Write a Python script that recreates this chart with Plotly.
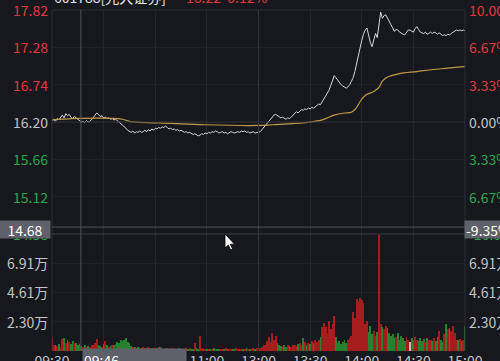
import plotly.graph_objects as go

# ---------------- data ----------------
prev_close = 16.20
price = [
    16.22, 16.24, 16.21, 16.25, 16.23, 16.27, 16.30, 16.26, 16.32, 16.29, 16.31, 16.27, 16.25, 16.28, 16.26, 16.24, 16.22,
    16.20, 16.21, 16.19, 16.22, 16.20, 16.21, 16.23, 16.26, 16.30, 16.33,
    16.31, 16.28, 16.29, 16.26, 16.27, 16.25, 16.26, 16.24, 16.25, 16.23, 16.24, 16.22, 16.20, 16.18,
    16.16, 16.13, 16.11, 16.08, 16.06, 16.05, 16.07, 16.04, 16.06, 16.05,
    16.07, 16.05, 16.06, 16.08, 16.06, 16.09, 16.07, 16.10, 16.08, 16.11, 16.10, 16.12, 16.11, 16.13, 16.12, 16.14,
    16.12, 16.10, 16.11, 16.09, 16.10, 16.08, 16.09, 16.07, 16.08, 16.06, 16.05, 16.06, 16.04, 16.05, 16.03, 16.02, 16.03, 16.01, 16.00,
    16.01, 16.03, 16.02, 16.04, 16.03, 16.05, 16.04, 16.06, 16.05, 16.07,
    16.06, 16.04, 16.05, 16.06, 16.04, 16.05, 16.03, 16.04, 16.06, 16.05,
    16.04, 16.05, 16.06, 16.05, 16.07, 16.06, 16.07, 16.05, 16.06, 16.04,
    16.05, 16.06, 16.04, 16.05,
    16.05, 16.06, 16.09, 16.12, 16.15, 16.17, 16.21, 16.24, 16.27, 16.30, 16.31,
    16.29, 16.28, 16.26, 16.27, 16.25, 16.24, 16.26, 16.25, 16.27, 16.30, 16.33, 16.35, 16.33, 16.36, 16.38, 16.37, 16.39,
    16.38, 16.40, 16.39, 16.41, 16.40, 16.42, 16.44, 16.46, 16.45, 16.49, 16.53, 16.56, 16.60, 16.66, 16.73, 16.80, 16.87,
    16.84, 16.80, 16.77, 16.74, 16.72, 16.70, 16.69, 16.71, 16.74, 16.79, 16.84,
    16.93, 17.05, 17.16, 17.27, 17.38, 17.47, 17.53, 17.56, 17.45, 17.35, 17.29, 17.38, 17.48, 17.42, 17.58, 17.79,
    17.70, 17.74, 17.75, 17.70, 17.66, 17.61, 17.56, 17.51, 17.54, 17.53,
    17.50, 17.48, 17.47, 17.46, 17.50, 17.53, 17.53, 17.51, 17.50, 17.55,
    17.58, 17.54, 17.50, 17.49, 17.48, 17.50, 17.47, 17.48, 17.50, 17.48,
    17.50, 17.49, 17.47, 17.49, 17.47, 17.45, 17.46, 17.45, 17.47, 17.46,
    17.48, 17.50, 17.52, 17.53, 17.52, 17.53, 17.52, 17.53, 17.52,
]

avg_minute = [0, 12, 41, 45, 70, 89, 120, 128, 147, 157, 164, 170, 174, 177, 180, 183, 186, 188, 190, 192,
              195, 202, 212, 226, 240]
avg_price = [16.23, 16.25, 16.24, 16.21, 16.18, 16.16, 16.15, 16.16, 16.19, 16.23, 16.30, 16.33, 16.34,
             16.41, 16.53, 16.60, 16.63, 16.66, 16.70, 16.79, 16.85, 16.90, 16.93, 16.97, 17.00]

volume_wan = [
    1.10, 0.45, 0.50, 0.40, 0.55, 0.35, 0.95, 1.00, 0.60, 0.85,
    0.70, 0.55, 0.80, 0.60, 0.65, 0.45, 0.55, 0.40, 0.35, 0.45,
    0.30, 0.40, 0.35, 0.50, 0.45, 0.60, 0.95, 0.50, 0.40, 0.35,
    0.55, 0.80, 0.45, 0.35, 0.40, 0.50, 0.45, 0.55, 0.70, 0.65,
    0.85, 0.75, 0.90, 1.00, 0.70, 0.60, 0.40, 0.35, 0.30, 0.25,
    0.30, 0.20, 0.25, 0.30, 0.20, 0.25, 0.35, 0.20, 0.25, 0.20,
    0.25, 0.20, 0.30, 0.35, 0.20, 0.15, 0.25, 0.20, 0.15, 0.20,
    0.15, 0.20, 0.15, 0.10, 0.20, 0.15, 0.10, 0.15, 0.20, 0.15,
    0.20, 0.15, 0.10, 0.60, 0.25, 0.15, 1.20, 0.20, 0.15, 0.10,
    0.15, 0.10, 0.15, 0.10, 0.20, 0.10, 0.15, 0.10, 0.12, 0.15,
    0.10, 0.25, 0.15, 0.10, 0.12, 0.10, 0.15, 0.20, 0.10, 0.12,
    0.15, 0.10, 0.12, 0.20, 0.10, 0.15, 0.12, 0.25, 0.15, 0.20,
    0.30, 0.25, 0.35, 0.50, 0.45, 0.80, 1.10, 0.70, 1.40, 0.90,
    1.20, 0.60, 0.45, 0.40, 0.35, 0.50, 0.30, 0.45, 0.40, 0.35,
    0.50, 0.45, 0.40, 0.55, 0.60, 0.50, 1.00, 0.70, 0.45, 0.60,
    0.55, 0.80, 0.65, 0.90, 0.70, 0.85, 1.10, 1.90, 2.20, 1.90,
    1.40, 2.35, 1.70, 2.10, 2.75, 1.10, 0.60, 0.80, 0.55, 0.70,
    0.90, 0.60, 0.85, 1.00, 1.20, 3.10, 2.60, 4.10, 3.90, 4.20,
    4.00, 3.80, 2.10, 2.40, 1.50, 2.00, 1.30, 1.60, 1.20, 1.50,
    9.10, 2.10, 1.90, 1.70, 2.00, 1.80, 1.40, 1.20, 1.30, 1.00,
    1.10, 1.40, 0.90, 1.20, 1.00, 0.80, 1.10, 0.90, 0.70, 1.00,
    0.85, 1.10, 0.90, 0.75, 1.00, 0.80, 0.95, 0.70, 1.05, 0.85,
    0.90, 0.75, 1.00, 0.80, 1.10, 1.60, 0.90, 0.70, 1.30, 2.10,
    1.70, 1.80, 1.60, 2.00, 1.40, 0.90, 0.85, 0.95, 0.80, 0.90,
    2.00,
]

minutes = list(range(len(price)))
time_ticks = [0, 30, 60, 90, 120, 150, 180, 210, 240]
time_labels = ["09:30", "10:00", "10:30", "11:00", "13:00", "13:30", "14:00", "14:30", "15:00"]
price_ticks = [17.82, 17.28, 16.74, 16.20, 15.66, 15.12, 14.58]
price_labels = ["17.82", "17.28", "16.74", "16.20", "15.66", "15.12", "14.58"]
pct_labels = ["10.00%", "6.67%", "3.33%", "0.00%", "3.33%", "6.67%", "-10.00%"]
vol_ticks = [6.91, 4.61, 2.30]
vol_labels = ["6.91万", "4.61万", "2.30万"]
vol_max = 9.21

stock_name = "601788[光大证券]"
cursor_minute = 16.8
cursor_time_label = "09:46"
cursor_last = "16.22"
cursor_change = "0.12%"
cursor_price = 14.68
cursor_price_label = "14.68"
cursor_pct_label = "-9.35%"

# ---------------- style ----------------
BG = "#16181d"
RED = "#e2393e"
GREEN = "#2ea64e"
GRAY = "#c4c4c4"
FONT = "Noto Sans CJK SC, Noto Sans, sans-serif"
L, R, T, B = 52, 35, 10, 10
W, H = 500, 361
PW, PH = W - L - R, H - T - B
split = 0.3431


def paper(px_x, px_y):
    return (px_x - L) / PW, (H - B - px_y) / PH


def level_color(v):
    if v > prev_close + 1e-9:
        return RED
    if v < prev_close - 1e-9:
        return GREEN
    return GRAY


bar_colors = []
for i, p in enumerate(price):
    ref = prev_close if i == 0 else price[i - 1]
    if p > ref + 1e-9:
        bar_colors.append("#a51d1d")
    elif p < ref - 1e-9:
        bar_colors.append("#26812f")
    else:
        bar_colors.append("#c0c0c0")

fig = go.Figure()
fig.add_trace(go.Scatter(x=minutes, y=price, mode="lines", line=dict(color="#d6d6d6", width=1),
                         xaxis="x", yaxis="y", hoverinfo="skip"))
fig.add_trace(go.Scatter(x=avg_minute, y=avg_price, mode="lines", line=dict(color="#bf9a48", width=1.2, shape="spline"),
                         xaxis="x", yaxis="y", hoverinfo="skip"))
fig.add_trace(go.Bar(x=minutes, y=volume_wan, marker=dict(color=bar_colors, line=dict(width=0)),
                     width=0.5, xaxis="x2", yaxis="y2", hoverinfo="skip"))

grid = "#22252b"
fig.update_layout(
    width=W, height=H, margin=dict(l=L, r=R, t=T, b=B, autoexpand=False),
    paper_bgcolor=BG, plot_bgcolor=BG, showlegend=False,
    font=dict(family=FONT, size=14, color=GRAY),
    xaxis=dict(domain=[0, 1], anchor="y", range=[0, 240], tickvals=time_ticks, showticklabels=False,
               showgrid=True, gridcolor=grid, gridwidth=1, zeroline=False, showline=False, automargin=False),
    xaxis2=dict(domain=[0, 1], anchor="y2", range=[0, 240], matches="x", tickvals=time_ticks,
                ticktext=time_labels, showgrid=True, gridcolor=grid, zeroline=False, showline=False,
                ticks="", tickfont=dict(color=GRAY, size=14, family=FONT), automargin=False),
    yaxis=dict(domain=[split, 1], range=[price_ticks[-1], price_ticks[0]], tickvals=price_ticks,
               showticklabels=False, showgrid=True, gridcolor="#1e2126", zeroline=False, automargin=False),
    yaxis2=dict(domain=[0, split], range=[0, vol_max], tickvals=vol_ticks, showticklabels=False,
                showgrid=True, gridcolor="#1e2126", zeroline=False, automargin=False),
    bargap=0,
)

shapes = []
shapes.append(dict(type="line", xref="paper", yref="paper", x0=0, x1=1, y0=1, y1=1, line=dict(color="#2c2f35", width=1)))
shapes.append(dict(type="line", xref="paper", yref="paper", x0=0, x1=0, y0=0, y1=1, line=dict(color="#2c2f35", width=1)))
shapes.append(dict(type="line", xref="paper", yref="paper", x0=1, x1=1, y0=0, y1=1, line=dict(color="#2c2f35", width=1)))
shapes.append(dict(type="line", xref="paper", yref="paper", x0=0, x1=1, y0=split, y1=split, line=dict(color="#3a3d44", width=1)))
shapes.append(dict(type="line", xref="x", yref="paper", x0=120, x1=120, y0=0, y1=1, line=dict(color="#34373e", width=1)))
shapes.append(dict(type="line", xref="paper", yref="y", x0=0, x1=1, y0=prev_close, y1=prev_close, line=dict(color="#2e3137", width=1)))
shapes.append(dict(type="line", xref="x", yref="paper", x0=cursor_minute, x1=cursor_minute, y0=0, y1=1,
                   line=dict(color="#50535b", width=1)))
shapes.append(dict(type="line", xref="paper", yref="y", x0=0, x1=1, y0=cursor_price, y1=cursor_price,
                   line=dict(color="#50535b", width=1)))
pts = [(225, 234), (225, 248), (228.3, 245), (230.6, 250), (232.6, 249), (230.3, 244.2), (234.6, 244.2)]
path = "M " + " L ".join(f"{paper(a, b)[0]:.5f},{paper(a, b)[1]:.5f}" for a, b in pts) + " Z"
shapes.append(dict(type="path", xref="paper", yref="paper", path=path, fillcolor="#ffffff",
                   line=dict(color="#000000", width=0.8), layer="above"))
fig.update_layout(shapes=shapes)

ann = []
for v, lab, pl in zip(price_ticks, price_labels, pct_labels):
    c = level_color(v)
    ann.append(dict(x=0, y=v, xref="paper", yref="y", text=lab, showarrow=False, xanchor="right",
                    xshift=-2, font=dict(color=c, size=14, family=FONT)))
    ann.append(dict(x=1, y=v, xref="paper", yref="y", text=pl, showarrow=False, xanchor="left",
                    xshift=2, font=dict(color=c, size=14, family=FONT)))
for v, lab in zip(vol_ticks, vol_labels):
    ann.append(dict(x=0, y=v, xref="paper", yref="y2", text=lab, showarrow=False, xanchor="right",
                    xshift=-2, font=dict(color=GRAY, size=14, family=FONT)))
    ann.append(dict(x=1, y=v, xref="paper", yref="y2", text=lab, showarrow=False, xanchor="left",
                    xshift=2, font=dict(color=GRAY, size=14, family=FONT)))
hx, hy = paper(52, 9)
ann.append(dict(x=hx, y=hy, xref="paper", yref="paper", text=stock_name, showarrow=False, xanchor="left",
                yanchor="bottom", font=dict(color="#e6e6e6", size=14, family=FONT)))
hx2, _ = paper(184, 9)
ann.append(dict(x=hx2, y=hy, xref="paper", yref="paper", text=cursor_last + "  " + cursor_change,
                showarrow=False, xanchor="left", yanchor="bottom", font=dict(color=RED, size=14, family=FONT)))
bx, by = paper(25, 229.5)
ann.append(dict(x=bx, y=by, xref="paper", yref="paper", text=cursor_price_label, showarrow=False,
                xanchor="center", yanchor="middle", width=48, height=15, bgcolor="#5e6169", borderpad=1,
                font=dict(color="#ffffff", size=14, family=FONT)))
rx, _ = paper(464, 229.5)
ann.append(dict(x=rx, y=by, xref="paper", yref="paper", text=cursor_pct_label, showarrow=False,
                xanchor="left", yanchor="middle", width=44, height=15, bgcolor="#5e6169", borderpad=1,
                align="left", font=dict(color="#ffffff", size=14, family=FONT)))
tx, ty = paper(82, 348)
ann.append(dict(x=tx, y=ty, xref="paper", yref="paper", text=cursor_time_label, showarrow=False,
                xanchor="left", yanchor="top", width=101, height=20, bgcolor="#5e6169", borderpad=1,
                align="left", valign="top", font=dict(color="#ffffff", size=14, family=FONT)))
fig.update_layout(annotations=ann)

fig.write_html("out.html", config={"displayModeBar": False},
               post_script="document.body.style.margin='0px';document.body.style.overflow='hidden';")
